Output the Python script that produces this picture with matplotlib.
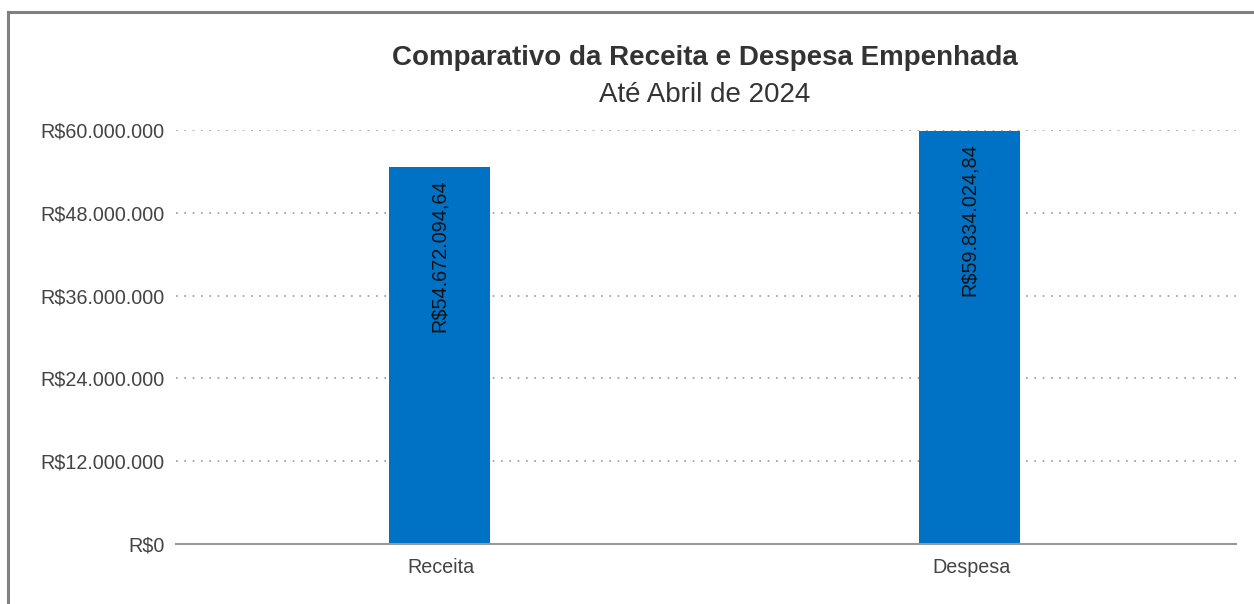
import matplotlib.pyplot as plt
from matplotlib.lines import Line2D
from matplotlib.ticker import FuncFormatter

plt.rcParams['font.family'] = ['Liberation Sans', 'DejaVu Sans']

categorias = ["Receita", "Despesa"]
valores = [54672094.64, 59834024.84]
y_ticks = [0, 12000000, 24000000, 36000000, 48000000, 60000000]


def fmt_brl(v, decimais=0):
    s = f"{v:,.{decimais}f}"
    s = s.replace(",", "X").replace(".", ",").replace("X", ".")
    return "R$" + s


fig = plt.figure(figsize=(12.54, 6.04), dpi=100)
ax = fig.add_axes([176 / 1254, 1 - 544 / 604, 1060 / 1254, 414 / 604])

x = range(len(categorias))
bars = ax.bar([i - 0.003 for i in x], valores, width=0.19, color="#0072C6", zorder=3)

for b, v in zip(bars, valores):
    ax.annotate(fmt_brl(v, 2), (b.get_x() + b.get_width() / 2, v),
                xytext=(0, -9), textcoords="offset points",
                rotation=90, ha="center", va="top", fontsize=14.3, color="#111111",
                zorder=4)

ax.set_xlim(-0.5, 1.5)
ax.set_ylim(0, 60000000)
ax.set_xticks(list(x))
ax.set_xticklabels(categorias)
ax.set_yticks(y_ticks)
ax.yaxis.set_major_formatter(FuncFormatter(lambda v, p: fmt_brl(v)))
ax.tick_params(axis="both", length=0, colors="#444444", labelsize=14.2)
ax.tick_params(axis="y", pad=8)
ax.tick_params(axis="x", pad=10)

ax.grid(axis="y", linestyle=(0, (1, 4)), color="#999999", linewidth=1.2, zorder=0)
ax.grid(axis="x", visible=False)
for s in ["top", "right", "left"]:
    ax.spines[s].set_visible(False)
ax.spines["bottom"].set_color("#999999")
ax.spines["bottom"].set_linewidth(1.5)
ax.spines["bottom"].set_zorder(5)
ax.yaxis.get_gridlines()[0].set_visible(False)

fig.text(705 / 1254, 1 - 58 / 604, "Comparativo da Receita e Despesa Empenhada",
         ha="center", va="center", fontsize=20, fontweight="bold", color="#333333")
fig.text(705 / 1254, 1 - 95 / 604, "Até Abril de 2024",
         ha="center", va="center", fontsize=20, color="#333333")

# moldura cinza (topo e esquerda)
fig.add_artist(Line2D([8 / 1254, 1], [1 - 12 / 604, 1 - 12 / 604],
                      transform=fig.transFigure, color="#808080", linewidth=2.2))
fig.add_artist(Line2D([8 / 1254, 8 / 1254], [0, 1 - 12 / 604],
                      transform=fig.transFigure, color="#808080", linewidth=2.2))

fig.savefig("out.png", dpi=100)
